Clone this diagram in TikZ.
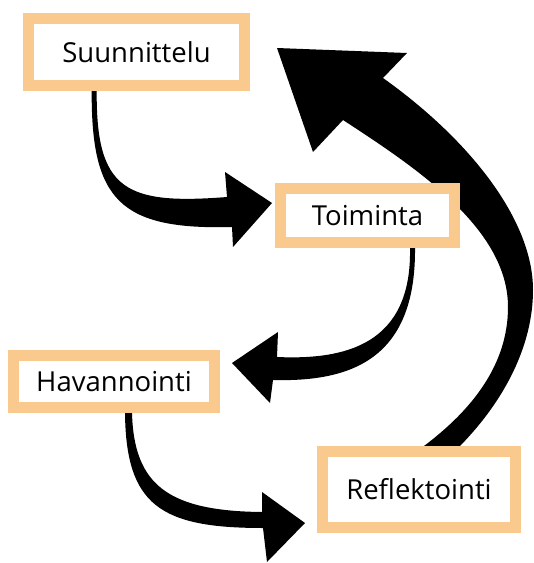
\documentclass[tikz,border=0pt]{standalone}
\usepackage{fontspec}
\setmainfont{Open Sans}
\usetikzlibrary{backgrounds}
\definecolor{peach}{RGB}{250,201,142}
\begin{document}
\begin{tikzpicture}[x=1pt,y=-1pt,
  box/.style={draw=peach, line width=11pt, fill=white, inner sep=0pt,
    font=\fontsize{27.5}{30}\selectfont, text=black},
  blockarrow/.style={fill=black, draw=none}]
\useasboundingbox (0,0) rectangle (534,563);
\node[box, minimum width=216pt, minimum height=67pt] (S) at (136.5,52) {Suunnittelu};
\node[box, minimum width=174pt, minimum height=54pt] (T) at (367.5,215.5) {Toiminta};
\node[box, minimum width=201pt, minimum height=52pt] (H) at (114,381.5) {Havannointi};
\node[box, minimum width=193pt, minimum height=76pt] (R) at (419,489.5) {Reflektointi};
\begin{pgfonlayer}{background}
\fill[white] (0,0) rectangle (534,563);
% arrow 1: Suunnittelu -> Toiminta
\coordinate (a1l) at ([shift={(-44.8,0)}]S.south);
\coordinate (a1r) at ([shift={(-39.8,0)}]S.south);
\coordinate (a1t) at ([shift={(-3,-12.5)}]T.west);
\fill[blockarrow] (a1l) .. controls (91,200) and (120,230) .. (232,227) -- (233,247) -- (a1t)
  -- (225,172) -- (227,197) .. controls (125,205) and (96,190) .. (a1r) -- cycle;
% arrow 2: Toiminta -> Havannointi
\coordinate (a2l) at ([shift={(42.5,0)}]T.south);
\coordinate (a2r) at ([shift={(47.5,0)}]T.south);
\coordinate (a2t) at ([shift={(12,-18.5)}]H.east);
\fill[blockarrow] (a2r) .. controls (416,360) and (350,382) .. (273,380) -- (270,403) -- (a2t)
  -- (278,332) -- (277,357) .. controls (345,360) and (412,345) .. (a2l) -- cycle;
% arrow 3: Havannointi -> Reflektointi
\coordinate (a3l) at ([shift={(11,0)}]H.south);
\coordinate (a3r) at ([shift={(18,0)}]H.south);
\coordinate (a3t) at ([shift={(-12,33.5)}]R.west);
\fill[blockarrow] (a3l) .. controls (126,505) and (160,528) .. (263,528) -- (267,562) -- (a3t)
  -- (262,492) -- (262,512) .. controls (168,511) and (134,485) .. (a3r) -- cycle;
% arrow 4: Reflektointi -> Suunnittelu
\coordinate (a4l) at ([shift={(5,0)}]R.north);
\coordinate (a4r) at ([shift={(41,0)}]R.north);
\coordinate (a4t) at ([shift={(27,-4)}]S.east);
\fill[blockarrow] (a4l) .. controls (465,415) and (508,370) .. (508,307)
  .. controls (508,230) and (420,170) .. (343,120) -- (313,152) -- (a4t) -- (407,53) -- (383,78)
  .. controls (470,140) and (533,220) .. (533,290)
  .. controls (533,345) and (505,400) .. (a4r) -- cycle;
\end{pgfonlayer}
\end{tikzpicture}
\end{document}
